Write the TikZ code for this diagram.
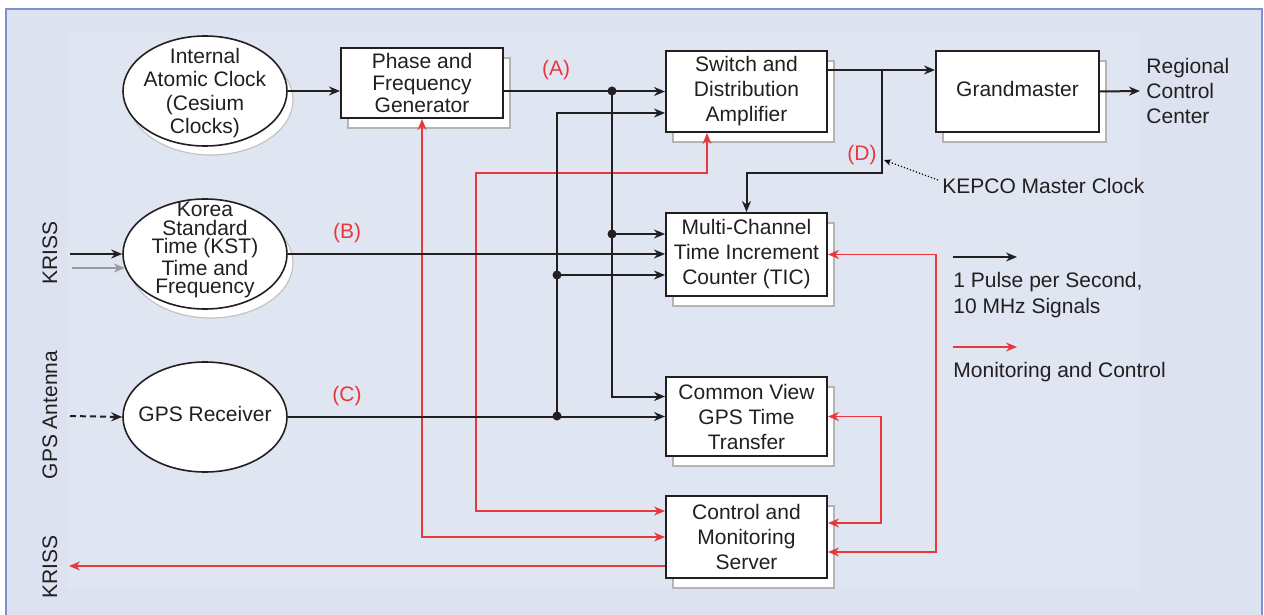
\documentclass[tikz,border=0pt]{standalone}
\usepackage{fontspec}
\setmainfont{Liberation Sans}
\usetikzlibrary{arrows.meta,shadows,calc,shapes.geometric}
\definecolor{bgblue}{HTML}{DDE2F0}
\definecolor{bginner}{HTML}{E0E5F2}
\definecolor{frameblue}{HTML}{7D90D0}
\definecolor{sigred}{HTML}{E8383D}
\definecolor{ink}{HTML}{231F20}
\definecolor{shadowgray}{HTML}{B4B4B4}
\definecolor{arrowgray}{HTML}{9A9A9A}
\begin{document}
\begin{tikzpicture}[x=0.5pt,y=-0.5pt,
  every node/.style={text=ink, font=\fontsize{10.5}{12.5}\selectfont},
  box/.style={draw=ink, line width=1pt, fill=white, rectangle, inner sep=0pt, align=center,
    minimum width=80.5pt, minimum height=40.5pt,
    general shadow={shadow xshift=3.5pt, shadow yshift=-5pt, fill=white, draw=shadowgray, line width=0.8pt}},
  oval/.style={draw=ink, line width=0.8pt, fill=white, ellipse, inner sep=0pt, minimum width=82pt, minimum height=55pt},
  ovalshadow/.style={oval, general shadow={shadow xshift=3pt, shadow yshift=-4.5pt, fill=white, draw=shadowgray!80, line width=0.6pt}},
  sig/.style={draw=ink, line width=1pt, -{Stealth[length=5.5pt,width=4.5pt]}},
  ctl/.style={draw=sigred, line width=0.8pt, -{Stealth[length=5.5pt,width=4.5pt]}},
  ctlboth/.style={draw=sigred, line width=0.8pt, {Stealth[length=5.5pt,width=4.5pt]}-{Stealth[length=5.5pt,width=4.5pt]}},
  junction/.style={circle, fill=ink, inner sep=0pt, minimum size=4.5pt},
  lbl/.style={text=sigred, inner sep=0pt},
  plain/.style={inner sep=0pt, align=left},
]
\useasboundingbox (0,0) rectangle (1264,615);
\fill[white] (0,0) rectangle (1264,615);
\draw[frameblue, line width=1.4pt, fill=bgblue] (6,9) rectangle (1262,640);
\fill[bginner] (67,33) rectangle (1140,588);

% ovals
\node[ovalshadow] (ell1) at (205,91) {};
\node[align=center, inner sep=0pt, font=\fontsize{10.5}{11.75}\selectfont] (t1) at (205,93) {Internal\\Atomic Clock\\(Cesium\\Clocks)};
\node[ovalshadow] (ell2) at (205,254) {};
\node[align=center, inner sep=0pt, font=\fontsize{10.5}{9.2}\selectfont] (t2) at (205,250) {Korea\\Standard\\Time (KST)\\Time and\\Frequency};
\node[oval] (ell3) at (205,417) {};
\node[inner sep=0pt] (t3) at (205,414) {GPS Receiver};

% boxes
\node[box, minimum width=81pt, minimum height=35pt, font=\fontsize{10.5}{11}\selectfont] (phase) at (422,83) {Phase and\\Frequency\\Generator};
\node[box] (sw) at (746.5,91.5) {Switch and\\Distribution\\Amplifier};
\node[box, minimum width=81.5pt] (gm) at (1017.5,91.5) {\raisebox{2.5pt}{Grandmaster}};
\node[box, minimum height=41.5pt] (tic) at (746.5,254.5) {Multi-Channel\\Time Increment\\Counter (TIC)};
\node[box, minimum height=39.5pt] (cv) at (746.5,416.5) {Common View\\GPS Time\\Transfer};
\node[box, minimum height=41pt] (ctrl) at (746.5,537) {Control and\\Monitoring\\Server};

% side texts
\node[plain, anchor=west] (rcc) at (1146,91) {Regional\\Control\\Center};
\node[plain, anchor=west] (kepco) at (942,186) {KEPCO Master Clock};
\node[rotate=90, inner sep=0pt] (kriss1) at (50,253) {KRISS};
\node[rotate=90, inner sep=0pt] (gpsant) at (50,415) {GPS Antenna};
\node[rotate=90, inner sep=0pt] (kriss2) at (50,567) {KRISS};

% labels
\node[lbl] (la) at (556,70) {(A)};
\node[lbl] (lb) at (347,233) {(B)};
\node[lbl] (lc) at (347,396) {(C)};
\node[lbl] (ld) at (862,155) {(D)};

% legend
\coordinate (lg1a) at (953,257);
\coordinate (lg1b) at (1017,257);
\coordinate (lg2a) at (953,347);
\coordinate (lg2b) at (1017,347);
\node[plain, anchor=west, font=\fontsize{10.5}{13}\selectfont] (lgt1) at (953,295) {1 Pulse per Second,\\10 MHz Signals};
\node[plain, anchor=west] (lgt2) at (953,372) {Monitoring and Control};
\draw[sig] (lg1a) -- (lg1b);
\draw[ctl] (lg2a) -- (lg2b);

% helper coordinates
\coordinate (k1) at (70,254);
\coordinate (k2) at (72,268);
\coordinate (ga) at (70,416);
\coordinate (kr) at (69,566);
\coordinate (r1) at (476,173);
\coordinate (r2) at (936,400);
\coordinate (r3) at (881,470);
\coordinate (dE) at (882,70);
\coordinate (dF) at (882,173);
\coordinate (dtip) at (884,160);
\coordinate (jAc) at (612,91);
\coordinate (jDc) at (557,416);

% red control lines (under black)
\draw[ctlboth] (phase.south) |- (ctrl.west);
\draw[ctlboth] ([xshift=-19.75pt]sw.south) |- (r1) |- ([yshift=13pt]ctrl.west);
\draw[ctlboth] (tic.east) -| (r2) |- ([yshift=-7.5pt]ctrl.east);
\draw[ctlboth] (cv.east) -| (r3) |- ([yshift=7pt]ctrl.east);
\draw[ctl] ([yshift=-14.5pt]ctrl.west) -- (kr);

% black signal lines
\draw[sig] (k1) -- (ell2.west);
\draw[draw=arrowgray, line width=1pt, -{Stealth[length=5.5pt,width=4.5pt]}] (k2) -- (k2 -| ell2.190);
\draw[sig, dashed, dash pattern=on 3pt off 2pt] (ga) -- (ell3.west);
\draw[sig] (ell1.east) -- (ell1.east -| phase.west);
\draw[sig] (phase.east |- sw.west) -- (sw.west);
\draw[sig] (jAc) |- ([yshift=10pt]cv.west);
\draw[sig] (jAc |- 0,234) -- (tic.west |- 0,234);
\draw[sig] (ell2.east) -- (ell2.east -| tic.west);
\draw[sig] (jDc) |- ([yshift=-10.75pt]sw.west);
\draw[sig] (jDc |- 0,275) -- (tic.west |- 0,275);
\draw[sig] (ell3.east |- cv.west) -- (cv.west);
\draw[sig] ([yshift=10.75pt]sw.east) -- ([yshift=10.75pt]gm.west);
\draw[sig] (dE) -- (dF) -| (tic.north);
\draw[sig] (gm.east) -- ([xshift=-3pt]rcc.west);
\draw[densely dotted, line width=0.6pt, -{Stealth[length=3.5pt,width=3pt]}] ([xshift=-2pt,yshift=3pt]kepco.west) -- (dtip);

% junctions
\node[junction] (jA) at (jAc) {};
\node[junction] (jB) at (612,234) {};
\node[junction] (jC) at (557,275) {};
\node[junction] (jD) at (jDc) {};
\end{tikzpicture}
\end{document}
